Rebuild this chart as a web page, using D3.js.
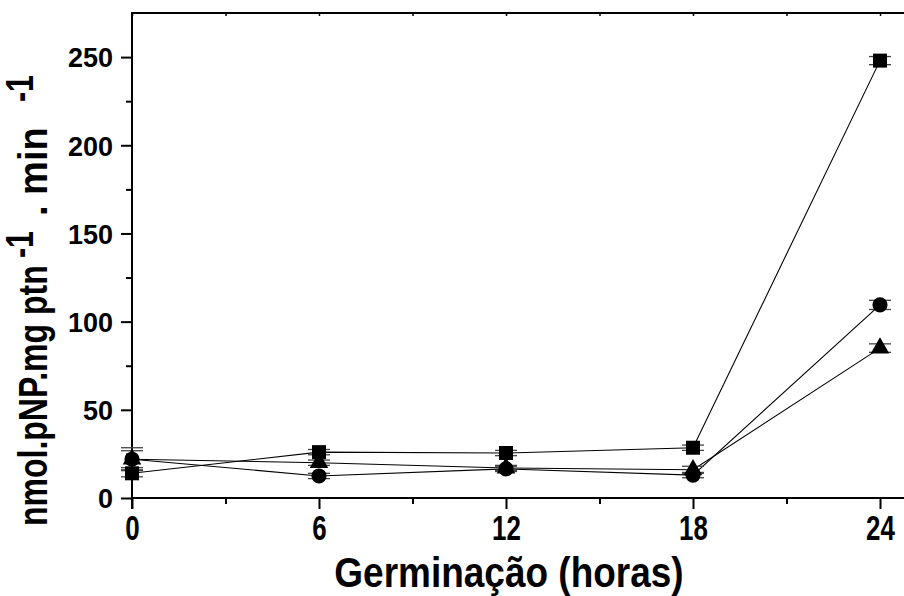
<!DOCTYPE html>
<html>
<head>
<meta charset="utf-8">
<script src="https://cdn.jsdelivr.net/npm/d3@7"></script>
<style>
  html, body { margin: 0; padding: 0; background: #fff; }
  svg text { font-family: "Liberation Sans", Arial, sans-serif; font-weight: bold; fill: #000; }
</style>
</head>
<body>
<svg id="chart" width="904" height="596"></svg>
<script>
const hours = [0, 6, 12, 18, 24];
const squareValues   = [14, 26, 25.5, 28.5, 248];
const squareErrors   = [2, 1.5, 1.5, 1.5, 2.3];
const circleValues   = [22, 12.5, 16.5, 13, 109.5];
const circleErrors   = [6.5, 1.5, 1.5, 1.5, 2.6];
const triangleValues = [22, 20, 17, 16, 85];
const triangleErrors = [4.8, 1.5, 1.5, 2, 2.4];
const xTickLabels = ["0", "6", "12", "18", "24"];
const yTickLabels = ["0", "50", "100", "150", "200", "250"];
const xTitle = "Germinação (horas)";
const yTitleParts = ["nmol.pNP.mg ptn", "-1", ". min", "-1"];

const svg = d3.select("#chart");
const x = d3.scaleLinear().domain([0, 24]).range([132, 880]);
const y = d3.scaleLinear().domain([0, 275]).range([498, 13]);
const xEnd = 904;

// axes lines
svg.append("line").attr("x1", x(0)).attr("x2", xEnd).attr("y1", y(0)).attr("y2", y(0))
  .attr("stroke", "#000").attr("stroke-width", 2);
svg.append("line").attr("x1", x(0)).attr("x2", xEnd).attr("y1", y(275)).attr("y2", y(275))
  .attr("stroke", "#000").attr("stroke-width", 2);
svg.append("line").attr("x1", x(0)).attr("x2", x(0)).attr("y1", y(0) + 11).attr("y2", y(275) - 1)
  .attr("stroke", "#000").attr("stroke-width", 2);

// bottom axis
const bottomMajor = d3.axisBottom(x).tickValues(hours).tickSize(11).tickFormat((d, i) => xTickLabels[i]);
const gB = svg.append("g").attr("transform", `translate(0,${y(0)})`).call(bottomMajor);
gB.select(".domain").remove();
gB.selectAll(".tick line").attr("stroke-width", 2);
gB.selectAll(".tick text").attr("y", 0).attr("dy", 0).attr("font-size", 36)
  .attr("transform", "translate(0,42) scale(0.72,1)");
const bottomMinor = d3.axisBottom(x).tickValues([3, 9, 15, 21]).tickSize(6).tickFormat("");
const gBm = svg.append("g").attr("transform", `translate(0,${y(0)})`).call(bottomMinor);
gBm.select(".domain").remove();
gBm.selectAll(".tick line").attr("stroke-width", 2);

// top axis (small inward ticks)
const topTicks = d3.axisTop(x).tickValues([0, 3, 6, 9, 12, 15, 18, 21, 24]).tickSize(-3).tickFormat("");
const gT = svg.append("g").attr("transform", `translate(0,${y(275)})`).call(topTicks);
gT.select(".domain").remove();
gT.selectAll(".tick line").attr("stroke-width", 1.5);

// left axis
const leftMajor = d3.axisLeft(y).tickValues([0, 50, 100, 150, 200, 250]).tickSize(11)
  .tickFormat((d, i) => yTickLabels[i]);
const gL = svg.append("g").attr("transform", `translate(${x(0)},0)`).call(leftMajor);
gL.select(".domain").remove();
gL.selectAll(".tick line").attr("stroke-width", 2);
gL.selectAll(".tick text").attr("font-size", 27).attr("x", -19).attr("dy", "0.36em");
const leftMinor = d3.axisLeft(y).tickValues([25, 75, 125, 175, 225]).tickSize(6).tickFormat("");
const gLm = svg.append("g").attr("transform", `translate(${x(0)},0)`).call(leftMinor);
gLm.select(".domain").remove();
gLm.selectAll(".tick line").attr("stroke-width", 2);

// titles
svg.append("text").attr("font-size", 43)
  .attr("text-anchor", "middle")
  .attr("transform", `translate(${(x(0) + x(24)) / 2 + 3},587) scale(0.86,1)`)
  .text(xTitle);

// y title pieces: screen y where each piece starts, baseline x, size, horizontal scale
const yTitleLayout = [
  { y: 526, bx: 47, size: 40, sx: 0.8 },
  { y: 258, bx: 33, size: 38, sx: 0.8 },
  { y: 216, bx: 47, size: 40, sx: 0.95 },
  { y: 102, bx: 33, size: 38, sx: 0.8 }
];
yTitleParts.forEach((t, i) => {
  const L = yTitleLayout[i];
  svg.append("text").attr("font-size", L.size)
    .attr("transform", `translate(${L.bx},${L.y}) rotate(-90) scale(${L.sx},1)`)
    .text(t);
});

// series
const series = [
  { values: squareValues, errors: squareErrors, shape: "square" },
  { values: circleValues, errors: circleErrors, shape: "circle" },
  { values: triangleValues, errors: triangleErrors, shape: "triangle" }
];
const line = d3.line().x((d, i) => x(hours[i])).y(d => y(d));

series.forEach(s => {
  svg.append("path").attr("d", line(s.values)).attr("fill", "none")
    .attr("stroke", "#000").attr("stroke-width", 1.1);
});

series.forEach(s => {
  const g = svg.append("g");
  s.values.forEach((v, i) => {
    const cx = x(hours[i]);
    const yTop = y(v + s.errors[i]), yBot = y(v - s.errors[i]);
    g.append("line").attr("x1", cx).attr("x2", cx).attr("y1", yTop).attr("y2", yBot)
      .attr("stroke", "#000").attr("stroke-width", 1.2);
    [yTop, yBot].forEach(yy => {
      g.append("line").attr("x1", cx - 11).attr("x2", cx + 11).attr("y1", yy).attr("y2", yy)
        .attr("stroke", "#444").attr("stroke-width", 1.3);
    });
  });
});

const symbols = { square: d3.symbolSquare, circle: d3.symbolCircle, triangle: d3.symbolTriangle };
const sizes = { square: 196, circle: 180, triangle: 150 };
series.forEach(s => {
  const sym = d3.symbol().type(symbols[s.shape]).size(sizes[s.shape]);
  svg.append("g").selectAll("path").data(s.values).join("path")
    .attr("d", sym)
    .attr("transform", (d, i) => `translate(${x(hours[i])},${y(d)})`)
    .attr("fill", "#000");
});
</script>
</body>
</html>
